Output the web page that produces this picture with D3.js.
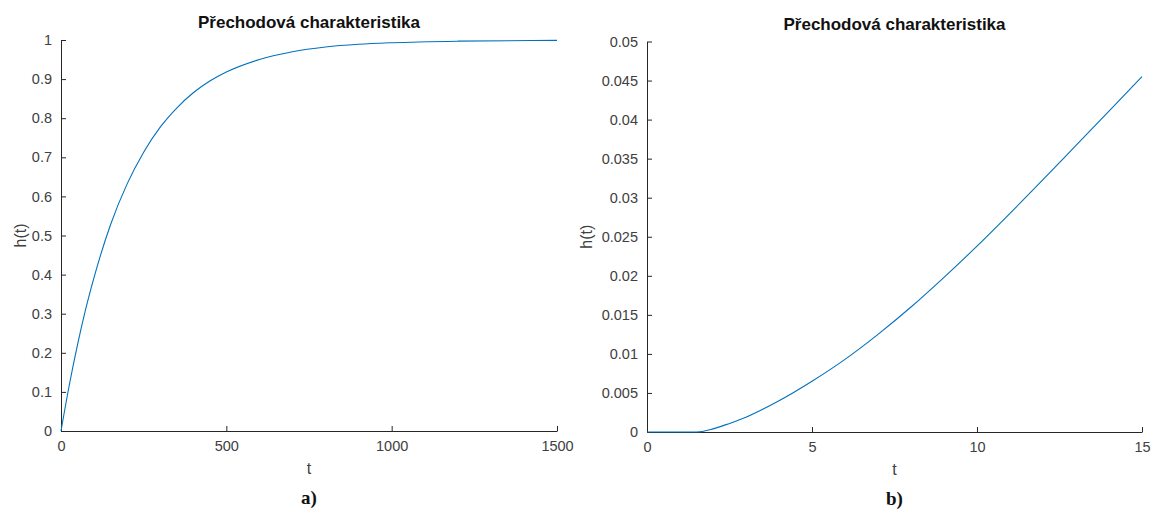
<!DOCTYPE html>
<html>
<head>
<meta charset="utf-8">
<script src="https://cdn.jsdelivr.net/npm/d3@7"></script>
<style>
  html, body { margin: 0; padding: 0; background: #fff; }
  svg { display: block; }
  .tick text { font-family: "Liberation Sans", Arial, sans-serif; font-size: 14.5px; fill: #404040; }
  .title { font-family: "Liberation Sans", Arial, sans-serif; font-weight: bold; font-size: 17px; fill: #111; }
  .lab { font-family: "Liberation Sans", Arial, sans-serif; font-size: 16px; fill: #404040; }
  .cap { font-family: "Liberation Serif", "Times New Roman", serif; font-weight: bold; font-size: 19px; fill: #111; }
</style>
</head>
<body>
<svg id="chart" width="1152" height="509"></svg>
<script>
// Step response a): full time range
const tA = [0, 25, 50, 75, 100, 150, 200, 250, 300, 350, 400, 450, 500, 600, 700, 800, 900, 1000, 1200, 1500];
const hA = [0, 0.117, 0.221, 0.313, 0.393, 0.528, 0.632, 0.713, 0.777, 0.826, 0.865, 0.895, 0.918, 0.950, 0.970, 0.982, 0.989, 0.993, 0.997, 0.999];
const xTicksA = [0, 500, 1000, 1500];
const yTicksA = [0, 0.1, 0.2, 0.3, 0.4, 0.5, 0.6, 0.7, 0.8, 0.9, 1];

// Step response b): detail of the start, with dead time
const tB = [0, 1.5, 2, 2.5, 3, 4, 5, 6, 7, 8, 9, 10, 11, 12, 13, 14, 15];
const hB = [0, 0, 0.0004, 0.0011, 0.0019, 0.0040, 0.0065, 0.0093, 0.0125, 0.0160, 0.0198, 0.0238, 0.0280, 0.0323, 0.0367, 0.0411, 0.0455];
const xTicksB = [0, 5, 10, 15];
const yTicksB = [0, 0.005, 0.01, 0.015, 0.02, 0.025, 0.03, 0.035, 0.04, 0.045, 0.05];

const titleText = "Přechodová charakteristika";
const svg = d3.select("#chart");

function panel(cfg) {
  const x = d3.scaleLinear().domain(cfg.xDomain).range([cfg.left, cfg.right]);
  const y = d3.scaleLinear().domain(cfg.yDomain).range([cfg.bottom, cfg.top]);
  const g = svg.append("g");

  const xAxis = d3.axisBottom(x).tickValues(cfg.xTicks).tickSizeInner(-5).tickSizeOuter(0)
    .tickPadding(10).tickFormat(d3.format("d"));
  const yAxis = d3.axisLeft(y).tickValues(cfg.yTicks).tickSizeInner(-5).tickSizeOuter(0)
    .tickPadding(9).tickFormat(d => d === 0 ? "0" : String(+d.toFixed(4)));

  const gx = g.append("g").attr("transform", `translate(0,${cfg.bottom})`).call(xAxis);
  const gy = g.append("g").attr("transform", `translate(${cfg.left},0)`).call(yAxis);
  [gx, gy].forEach(a => {
    a.select(".domain").attr("stroke", "#262626").attr("stroke-width", 1);
    a.selectAll(".tick line").attr("stroke", "#262626");
    a.attr("font-family", null).attr("font-size", null);
  });

  const line = d3.line().x((d, i) => x(cfg.t[i])).y(d => y(d)).curve(d3.curveMonotoneX);
  g.append("path").datum(cfg.h).attr("d", line)
    .attr("fill", "none").attr("stroke", "#0072BD").attr("stroke-width", 1.1);

  const cx = (cfg.left + cfg.right) / 2;
  g.append("text").attr("class", "title").attr("x", cx).attr("y", cfg.top - 12)
    .attr("text-anchor", "middle").text(titleText);
  g.append("text").attr("class", "lab").attr("x", cx).attr("y", cfg.bottom + 43)
    .attr("text-anchor", "middle").text("t");
  g.append("text").attr("class", "lab")
    .attr("transform", `translate(${cfg.yLabX},${(cfg.top + cfg.bottom) / 2}) rotate(-90)`)
    .attr("text-anchor", "middle").text("h(t)");
  g.append("text").attr("class", "cap").attr("x", cx).attr("y", cfg.bottom + 73)
    .attr("text-anchor", "middle").text(cfg.caption);
}

panel({ t: tA, h: hA, xDomain: [0, 1500], yDomain: [0, 1], xTicks: xTicksA, yTicks: yTicksA,
        left: 61, right: 557, top: 40, bottom: 431, yLabX: 26, caption: "a)" });
panel({ t: tB, h: hB, xDomain: [0, 15], yDomain: [0, 0.05], xTicks: xTicksB, yTicks: yTicksB,
        left: 647, right: 1142, top: 41.5, bottom: 432, yLabX: 592, caption: "b)" });
</script>
</body>
</html>
